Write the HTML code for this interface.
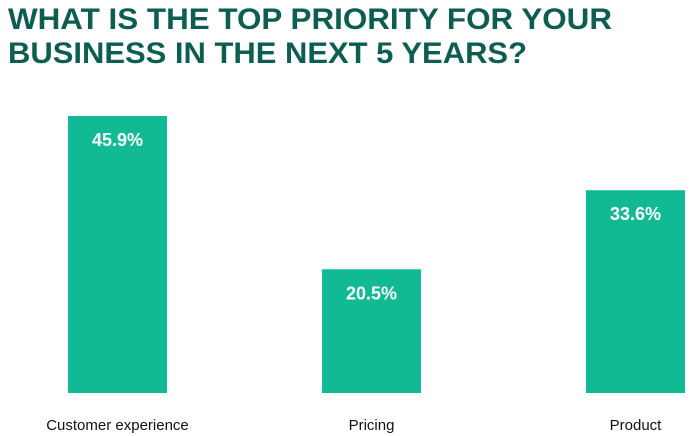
<!DOCTYPE html>
<html><head><meta charset="utf-8"><style>
html,body{margin:0;padding:0;background:#fff;}
svg{display:block;font-family:"Liberation Sans",sans-serif;}
</style></head><body>
<svg id="chart" width="695" height="436">
<text x="8" y="29" font-size="30" font-weight="bold" fill="#0d5e51" textLength="604" lengthAdjust="spacingAndGlyphs">WHAT IS THE TOP PRIORITY FOR YOUR</text>
<text x="8" y="63" font-size="30" font-weight="bold" fill="#0d5e51" textLength="519" lengthAdjust="spacingAndGlyphs">BUSINESS IN THE NEXT 5 YEARS?</text>
<g id="bars"></g>
</svg>
<script>
const categories = ["Customer experience","Pricing","Product"];
const values = [45.9,20.5,33.6];
const valueLabels = ["45.9%","20.5%","33.6%"];
const baseY = 393, pxPerUnit = 6.035;
const barX = [68,322,586], barW = 99;
function y(v){return baseY - v*pxPerUnit;}
const g = document.getElementById('bars');
const ns = "http://www.w3.org/2000/svg";
categories.forEach((c,i)=>{
  const r = document.createElementNS(ns,'rect');
  r.setAttribute('x',barX[i]);r.setAttribute('y',y(values[i]));
  r.setAttribute('width',barW);r.setAttribute('height',baseY-y(values[i]));
  r.setAttribute('fill','#12b995');
  
  
  g.appendChild(r);
  const t = document.createElementNS(ns,'text');
  t.setAttribute('x',barX[i]+barW/2);t.setAttribute('y',y(values[i])+30);
  t.setAttribute('text-anchor','middle');t.setAttribute('fill','#fff');
  t.setAttribute('font-size','18');t.setAttribute('font-weight','bold');
  t.textContent = valueLabels[i];
  
  
  g.appendChild(t);
  const l = document.createElementNS(ns,'text');
  l.setAttribute('x',barX[i]+barW/2);l.setAttribute('y',430);
  l.setAttribute('text-anchor','middle');l.setAttribute('fill','#111');
  l.setAttribute('font-size','15');
  l.textContent = c;
  
  
  g.appendChild(l);
});
</script>
</body></html>
